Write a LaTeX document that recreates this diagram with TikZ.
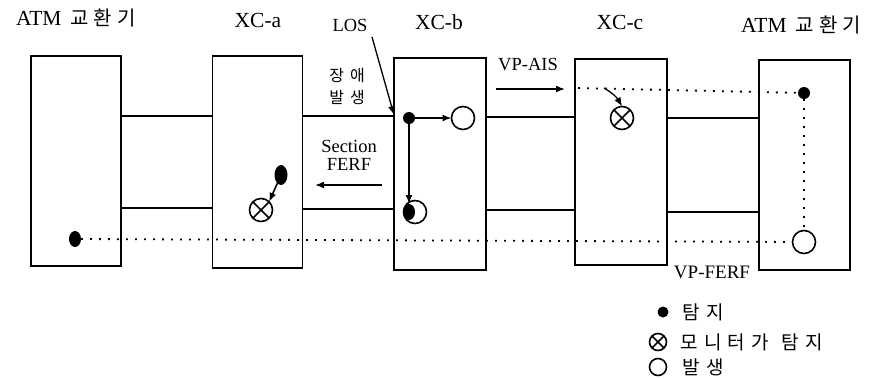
\documentclass[tikz,border=0pt]{standalone}
\usepackage{fontspec}
\setmainfont{Liberation Serif}
\newfontfamily\kr{Noto Sans CJK KR}
\usetikzlibrary{arrows.meta,calc,shapes.geometric}
\newcommand\ks{\hspace{4pt}}
\newcommand\kl{\hspace{6pt}}
\begin{document}
\begin{tikzpicture}[x=1pt,y=-1pt,
  line width=1.6pt,
  box/.style={draw,rectangle,inner sep=0pt,outer sep=0pt},
  title/.style={font=\fontsize{21.5}{24}\selectfont},
  small/.style={font=\fontsize{18.5}{20}\selectfont,align=center},
  krsmall/.style={font=\kr\fontsize{16}{22}\selectfont,align=center},
  dotf/.style={circle,fill,inner sep=0pt,outer sep=0pt,minimum size=12pt},
  dote/.style={ellipse,fill,inner sep=0pt,outer sep=0pt},
  ocirc/.style={circle,draw,fill=white,inner sep=0pt,outer sep=0pt,minimum size=23pt},
  xcirc/.style={circle,draw,inner sep=0pt,outer sep=0pt,minimum size=23pt},
  arr/.style={-{Latex[length=9pt,width=7pt]}},
  dotline/.style={line width=1.8pt,dash pattern=on 1.8pt off 7.2pt},
  leg/.style={font=\kr\fontsize{19}{21}\selectfont,anchor=west,inner sep=0pt}]
\useasboundingbox (0,0) rectangle (872,378);
% boxes
\node[box,minimum width=90pt,minimum height=210pt] (b1) at (76,161) {};
\node[box,minimum width=90pt,minimum height=212pt] (xa) at (257.5,162) {};
\node[box,minimum width=92pt,minimum height=212pt] (xb) at (440,164) {};
\node[box,minimum width=92pt,minimum height=206pt] (xc) at (621,162) {};
\node[box,minimum width=91pt,minimum height=210pt] (b2) at (804.5,165) {};
% titles
\node[title,inner sep=0pt] (t1) at (76,18) {ATM\hspace{9pt}{\kr\fontsize{20}{24}\selectfont 교\hspace{5pt}환\hspace{5pt}기}};
\node[title] (t2) at (258,20) {XC-a};
\node[title] (t3) at (439,22) {XC-b};
\node[title] (t4) at (620,22) {XC-c};
\node[title,inner sep=0pt] (t5) at (801,25) {ATM\hspace{9pt}{\kr\fontsize{20}{24}\selectfont 교\hspace{5pt}환\hspace{5pt}기}};
% links
\draw (b1.east |- 0,116) -- (xa.west |- 0,116);
\draw (xa.east |- 0,116) -- (xb.west |- 0,116);
\draw (xb.east |- 0,117) -- (xc.west |- 0,117);
\draw (xc.east |- 0,118) -- (b2.west |- 0,118);
\draw (b1.east |- 0,208) -- (xa.west |- 0,208);
\draw (xa.east |- 0,209) -- (xb.west |- 0,209);
\draw (xb.east |- 0,210) -- (xc.west |- 0,210);
\draw (xc.east |- 0,212) -- (b2.west |- 0,212);
% LOS
\node[small] (los) at (350,25) {LOS};
\coordinate (losa) at (372,37);
\coordinate (losend) at (394,115);
\draw[arr,line width=1.3pt] (losa) -- (losend);
\node[krsmall] (fail) at (347,86) {장\kl 애\\발\kl 생};
\node[small] (sf) at (349,155) {Section\\[-2pt]FERF};
\coordinate (sfa) at (382,185);
\coordinate (sfb) at (315,185);
\draw[arr] (sfa) -- (sfb);
% VP-AIS
\node[small] (ais) at (528,65) {VP-AIS};
\coordinate (aisa) at (496,89);
\coordinate (aisb) at (565,89);
\draw[arr] (aisa) -- (aisb);
% XC-b internals
\node[dotf] (bd) at (409,118) {};
\node[ocirc] (bo) at (463,118) {};
\draw[arr] (bd) -- (bo);
\node[ocirc] (bo2) at (415,212) {};
\node[dote,minimum width=12pt,minimum height=16pt] (bd2) at (409,212) {};
\draw[arr] (bd) -- (bd2.north);
% XC-a internals
\node[dote,minimum width=13pt,minimum height=20pt] (ad) at (281,175) {};
\node[xcirc] (ax) at (261,210) {};
\draw (ax.north west) -- (ax.south east) (ax.north east) -- (ax.south west);
\draw[arr] (ad) -- (ax.north east);
% XC-c internals
\node[xcirc] (cx) at (622,118) {};
\draw (cx.north west) -- (cx.south east) (cx.north east) -- (cx.south west);
\coordinate (cxa) at (604,88);
\draw[arr,line width=1.3pt] (cxa) to[bend left=15] (cx.north);
% right ATM
\node[dotf] (rd) at (804,93) {};
\node[ocirc] (ro) at (804,242) {};
% left ATM dot
\node[dote,minimum width=12pt,minimum height=16pt] (ld) at (75,239) {};
% dotted paths
\coordinate (aisstart) at (578,88);
\draw[dotline] (aisstart) -- (rd);
\draw[dotline] (rd) -- (ro);
\draw[dotline] (ld) -- (ro);
\node[small,font=\fontsize{19}{20}\selectfont] (vpf) at (712,272) {VP-FERF};
% legend
\node[dotf,minimum size=11pt] (l1) at (663,312) {};
\node[leg] (l1t) at (682,312) {탐\kl 지};
\node[circle,draw,inner sep=0pt,outer sep=0pt,minimum size=17pt] (l2) at (658,342) {};
\draw (l2.north west) -- (l2.south east) (l2.north east) -- (l2.south west);
\node[leg] (l2t) at (680,342) {모\kl 니\kl 터\kl 가\hspace{13pt}탐\kl 지};
\node[circle,draw,inner sep=0pt,minimum size=17pt] (l3) at (658,367) {};
\node[leg] (l3t) at (682,367) {발\kl 생};
\end{tikzpicture}
\end{document}
